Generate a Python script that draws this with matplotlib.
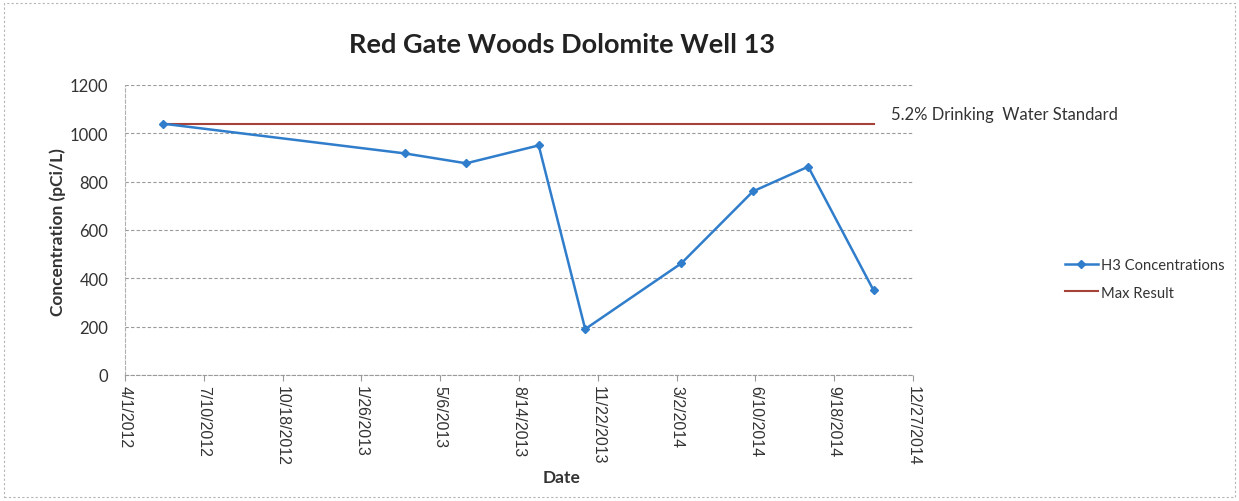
import matplotlib
matplotlib.use("Agg")
import matplotlib.pyplot as plt
import matplotlib.dates as mdates
from matplotlib.patches import Rectangle
import datetime as dt

plt.rcParams['font.family'] = ['Lato', 'DejaVu Sans']

# Data
sample_dates = ["2012-05-19", "2013-03-22", "2013-06-08", "2013-09-08", "2013-11-06",
                "2014-03-08", "2014-06-07", "2014-08-16", "2014-11-07"]
h3_values = [1040, 917, 876, 950, 190, 462, 760, 862, 350]
max_result = [1040, 1040]
max_dates = ["2012-05-19", "2014-11-07"]
tick_dates = ["2012-04-01", "2012-07-10", "2012-10-18", "2013-01-26", "2013-05-06",
              "2013-08-14", "2013-11-22", "2014-03-02", "2014-06-10", "2014-09-18",
              "2014-12-27"]
tick_labels = ["4/1/2012", "7/10/2012", "10/18/2012", "1/26/2013", "5/6/2013",
               "8/14/2013", "11/22/2013", "3/2/2014", "6/10/2014", "9/18/2014",
               "12/27/2014"]
y_ticks = [0, 200, 400, 600, 800, 1000, 1200]

def d(s):
    return mdates.date2num(dt.datetime.strptime(s, "%Y-%m-%d"))

fig = plt.figure(figsize=(12.39, 5.02), dpi=100)
ax = fig.add_axes([125/1239, 1-376/502, (913-125)/1239, (376-86)/502])

xs = [d(s) for s in sample_dates]
ax.plot(xs, h3_values, color='#2F7DCB', lw=1.8, marker='D', ms=4.5,
        label='H3 Concentrations', zorder=3)
ax.plot([d(s) for s in max_dates], max_result, color='#A5433A', lw=1.5,
        label='Max Result', zorder=2)

ax.set_xlim(d(tick_dates[0]), d(tick_dates[-1]))
ax.set_ylim(0, 1200)
ax.set_xticks([d(s) for s in tick_dates])
ax.set_xticklabels(tick_labels, rotation=270, fontsize=11.5, color='#333333',
                   family=['Liberation Sans', 'DejaVu Sans'])
ax.set_yticks(y_ticks)
ax.set_yticklabels([str(v) for v in y_ticks], fontsize=12, color='#333333')

ax.grid(axis='y', color='#9a9a9a', linestyle=(0, (3, 2)), lw=0.8)
for sp in ['top', 'right']:
    ax.spines[sp].set_visible(False)
ax.spines['left'].set_color('#b0b0b0')
ax.spines['left'].set_linestyle((0, (3, 2)))
ax.spines['left'].set_linewidth(0.8)
ax.spines['bottom'].set_color('#9a9a9a')
ax.spines['bottom'].set_linestyle((0, (3, 2)))
ax.spines['bottom'].set_linewidth(0.8)
ax.tick_params(axis='x', length=4, color='#9a9a9a', pad=3)
ax.tick_params(axis='y', length=0, pad=12)

fig.text(58/1239, 1-232/502, 'Concentration (pCi/L)', fontsize=12.5, fontweight='bold',
         color='#333333', ha='center', va='center', rotation=90)
fig.text(562/1239, 1-478/502, 'Date', fontsize=12.5, fontweight='bold',
         color='#333333', ha='center', va='center')

fig.text(562/1239, 1-45/502, 'Red Gate Woods Dolomite Well 13', fontsize=19.5,
         fontweight='bold', color='#222222', ha='center', va='center')

fig.text(891/1239, 1-115/502, '5.2% Drinking  Water Standard', fontsize=12,
         color='#333333', ha='left', va='center')

leg = fig.legend(loc='center left', bbox_to_anchor=(1052/1239, 1-280/502),
                 frameon=False, fontsize=10.6, handlelength=2.2, handletextpad=0.2,
                 labelspacing=0.9)
for t in leg.get_texts():
    t.set_color('#333333')

fig.patches.append(Rectangle((4/1239, 4/502), 1-8/1239, 1-8/502,
                             transform=fig.transFigure, fill=False,
                             edgecolor='#b5b5b5', lw=0.8, linestyle=(0, (2, 2))))

fig.savefig('out.png', dpi=100)
